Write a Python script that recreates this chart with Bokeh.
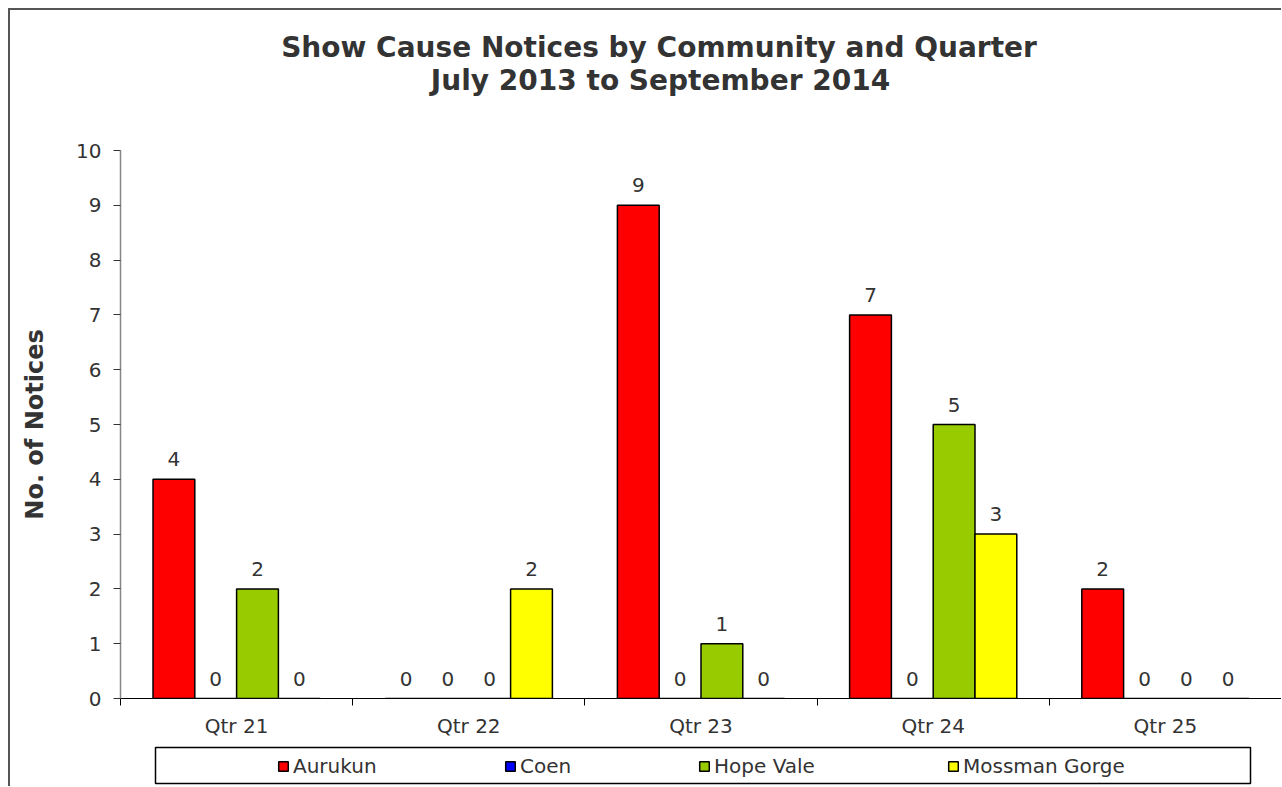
import numpy as np
from bokeh.plotting import figure
from bokeh.layouts import column
from bokeh.models import (Range1d, FixedTicker, Legend, LegendItem, Label,
                          ColumnDataSource, BoxAnnotation)
from bokeh.core.properties import value
from bokeh.embed import file_html
from bokeh.resources import INLINE

# ---------------- data ----------------
quarters = ["Qtr 21", "Qtr 22", "Qtr 23", "Qtr 24", "Qtr 25"]
communities = ["Aurukun", "Coen", "Hope Vale", "Mossman Gorge"]
aurukun = [4, 0, 9, 7, 2]
coen = [0, 0, 0, 0, 0]
hope_vale = [2, 0, 1, 5, 0]
mossman_gorge = [0, 2, 0, 3, 0]
colors = ["#FF0000", "#0000FF", "#99CC00", "#FFFF00"]
y_ticks = list(range(0, 11))
title_lines = ["Show Cause Notices by Community and Quarter",
               "July 2013 to September 2014"]
y_label = "No. of Notices"

# ---------------- styling ----------------
FONT = "DejaVu Sans"
TXT = "#333333"
W = 1271
X0, X1 = 120, 1281          # page x of the plotting frame (shared by all strips)
series = [aurukun, coen, hope_vale, mossman_gorge]
offsets = [-0.27, -0.09, 0.09, 0.27]
bar_w = 0.18
BORDERS = dict(min_border_left=110, min_border_right=0)


def bare(fig):
    fig.outline_line_color = None
    fig.xgrid.visible = False
    fig.ygrid.visible = False
    return fig


# ---------- title strip ----------
TH = 110
pt = bare(figure(width=W, height=TH, x_range=Range1d(X0, X1), y_range=Range1d(0, TH),
                 output_backend="svg", toolbar_location=None,
                 min_border_top=0, min_border_bottom=0, **BORDERS,
                 x_axis_location=None, y_axis_location=None))
for t, cx, base in zip(title_lines, [658.5, 660], [73, 40]):
    pt.add_layout(Label(x=cx, y=base, text=t, text_align="center",
                        text_baseline="alphabetic", text_font=FONT,
                        text_font_size="28px", text_font_style="bold",
                        text_color=TXT))

# ---------- main chart ----------
p = bare(figure(width=W, height=620,
                x_range=Range1d(0, len(quarters)), y_range=Range1d(0, 10),
                output_backend="svg", toolbar_location=None, **BORDERS,
                min_border_top=30, min_border_bottom=42))

centers = np.arange(len(quarters)) + 0.5
sources = []
for name, vals, col, off in zip(communities, series, colors, offsets):
    src = ColumnDataSource(dict(x=centers + off, top=vals,
                                label=[str(v) for v in vals]))
    sources.append(src)
    p.vbar(x="x", top="top", bottom=0, width=bar_w, source=src,
           fill_color=col, line_color="black", line_width=1.5)
    p.text(x="x", y="top", text="label", source=src, text_align="center",
           text_baseline="alphabetic", y_offset=-20, text_font=value(FONT),
           text_font_size="20px", text_color=TXT)

xa = p.xaxis[0]
xa.ticker = FixedTicker(ticks=[float(c) for c in centers],
                        minor_ticks=list(range(0, len(quarters) + 1)))
xa.major_label_overrides = {float(c): q for c, q in zip(centers, quarters)}
xa.major_tick_out = 0
xa.major_tick_in = 0
xa.minor_tick_out = 7
xa.minor_tick_in = 0
xa.minor_tick_line_color = "black"
xa.axis_line_color = "black"
xa.axis_line_width = 1.2
xa.major_label_text_font = FONT
xa.major_label_text_font_size = "20px"
xa.major_label_text_color = TXT
xa.major_label_standoff = 8

ya = p.yaxis[0]
ya.ticker = FixedTicker(ticks=y_ticks)
ya.minor_tick_line_color = None
ya.major_tick_out = 7
ya.major_tick_in = 0
ya.major_tick_line_color = "#333333"
ya.axis_line_color = "#868686"
ya.axis_line_width = 1.5
ya.major_label_text_font = FONT
ya.major_label_text_font_size = "20px"
ya.major_label_text_color = TXT
ya.major_label_standoff = 12
ya.axis_label = y_label
ya.axis_label_text_font = FONT
ya.axis_label_text_font_size = "24px"
ya.axis_label_text_font_style = "bold"
ya.axis_label_text_color = TXT
ya.axis_label_standoff = 24

# ---------- legend strip (framed box) ----------
LH = 46
pl = bare(figure(width=W, height=LH, x_range=Range1d(X0, X1), y_range=Range1d(0, LH),
                 output_backend="svg", toolbar_location=None, **BORDERS,
                 min_border_top=0, min_border_bottom=0,
                 x_axis_location=None, y_axis_location=None))
# series glyphs used only for the legend keys (not drawn themselves)
pl.extra_y_ranges = {"keys": Range1d(20, 30)}
pl.add_layout(BoxAnnotation(left=155, right=1250, bottom=3, top=39,
                            fill_alpha=0, line_color="#000000", line_alpha=1.0,
                            line_width=1.5))
leg_x = [157, 384, 578, 827]
for name, src, col, lx in zip(communities, sources, colors, leg_x):
    r = pl.vbar(x="x", top="top", bottom=0, width=bar_w, source=src,
                y_range_name="keys",
                fill_color=col, line_color="black", line_width=1.5)
    r.visible = False
    pl.add_layout(Legend(items=[LegendItem(label=name, renderers=[r])],
                         location=(lx, 8), orientation="horizontal",
                         padding=0, margin=0, glyph_width=12, glyph_height=12,
                         label_standoff=4, label_height=24,
                         border_line_alpha=0, background_fill_alpha=0,
                         inactive_fill_alpha=0,
                         label_text_font=FONT, label_text_font_size="20px",
                         label_text_color=TXT), "center")

layout = column(pt, p, pl, spacing=0)
layout.styles = {"margin-left": "8px", "margin-top": "8px",
                 "border-top": "2px solid #555555",
                 "border-left": "2px solid #555555"}

open("out.html", "w").write(file_html(layout, INLINE))
